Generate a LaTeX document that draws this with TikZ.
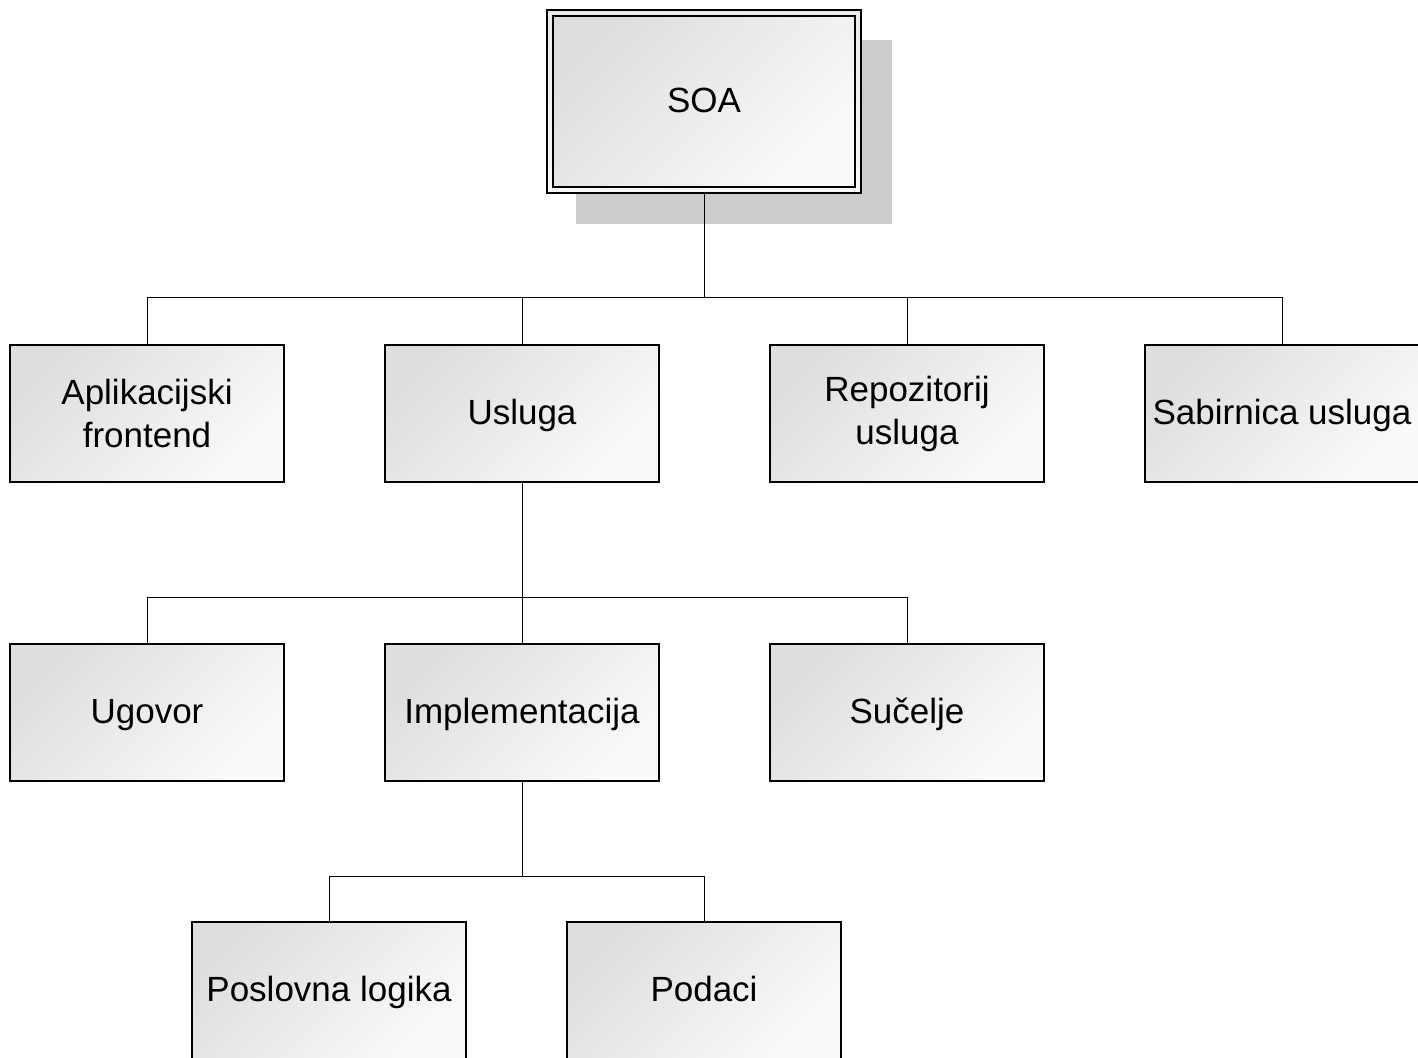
\documentclass[tikz,border=0pt]{standalone}
\usepackage{fontspec}
\setmainfont{Liberation Sans}
\begin{document}
\begin{tikzpicture}[x=1pt,y=-1pt,
  box/.style={draw=black, line width=2pt, minimum width=274pt, minimum height=137pt,
    inner sep=0pt, align=center, top color=black!13, bottom color=black!2,
    shading angle=45, font=\fontsize{35}{43}\selectfont},
  oneline/.style={text height=25pt, text depth=4pt},
  link/.style={draw=black, line width=1pt}]
\useasboundingbox (0,0) rectangle (1418,1057);
\clip (0,0) rectangle (1418,1057);
\fill[white] (0,0) rectangle (1418,1057);

% root box with drop shadow and double border
\fill[black!20] (576,40) rectangle (892,224);
\node[box, minimum width=314pt, minimum height=183pt, top color=black!8, bottom color=black!3] (soaouter) at (704,101.5) {};
\node[box, oneline, minimum width=302pt, minimum height=171pt] (soa) at (704,101.5) {SOA};

% first level
\node[box] (app) at (147,413.5) {Aplikacijski\\frontend};
\node[box, oneline] (usl) at (522,413.5) {Usluga};
\node[box] (rep) at (907,413.5) {Repozitorij\\usluga};
\node[box, oneline] (sab) at (1282,413.5) {Sabirnica usluga};

% second level
\node[box, oneline] (ugo) at (147,712.5) {Ugovor};
\node[box, oneline] (imp) at (522,712.5) {Implementacija};
\node[box, oneline] (suc) at (907,712.5) {Sučelje};

% third level
\node[box, oneline] (pos) at (329,990.5) {Poslovna logika};
\node[box, oneline] (pod) at (704,990.5) {Podaci};

% bus junctions
\coordinate (bus1) at (704,297);
\coordinate (bus2) at (522,597);
\coordinate (bus3) at (522,876);

\draw[link] (soaouter.south) -- (bus1);
\draw[link] (bus1) -| (app.north);
\draw[link] (bus1) -| (usl.north);
\draw[link] (bus1) -| (rep.north);
\draw[link] (bus1) -| (sab.north);

\draw[link] (usl.south) -- (bus2);
\draw[link] (bus2) -| (ugo.north);
\draw[link] (bus2) -- (imp.north);
\draw[link] (bus2) -| (suc.north);

\draw[link] (imp.south) -- (bus3);
\draw[link] (bus3) -| (pos.north);
\draw[link] (bus3) -| (pod.north);
\end{tikzpicture}
\end{document}
